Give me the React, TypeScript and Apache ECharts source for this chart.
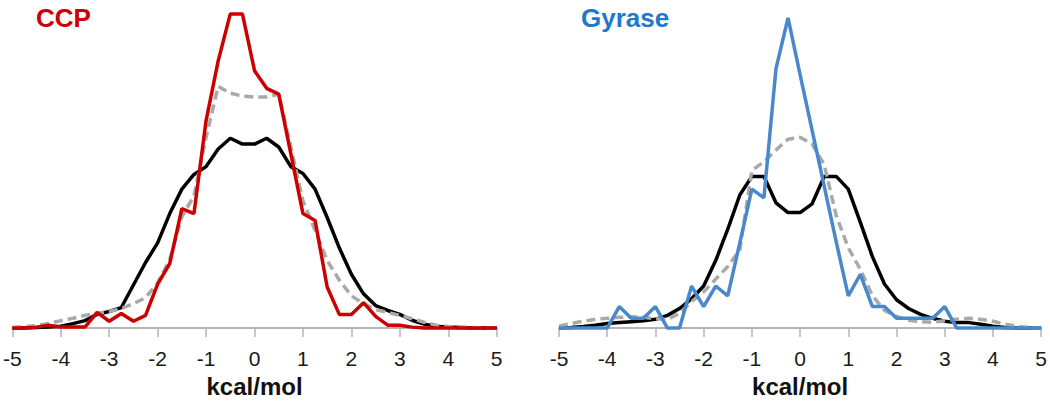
import React, { useEffect, useRef } from "react";
import * as echarts from "echarts";

const energies = [
  -5, -4.75, -4.5, -4.25, -4, -3.75, -3.5, -3.25, -3, -2.75, -2.5, -2.25, -2, -1.75, -1.5, -1.25, -1, -0.75, -0.5, -0.25,
  0, 0.25, 0.5, 0.75, 1, 1.25, 1.5, 1.75, 2, 2.25, 2.5, 2.75, 3, 3.25, 3.5, 3.75, 4, 4.25, 4.5, 4.75, 5,
];
const tickLabels = ["-5", "-4", "-3", "-2", "-1", "0", "1", "2", "3", "4", "5"];

const ccpBlack = [
  0, 0.01, 0.03, 0.06, 0.1, 0.23, 0.38, 0.7, 0.85, 1.05, 2.2, 3.35, 4.35, 5.85, 7.1, 7.85, 8.25, 9.15, 9.7, 9.4,
  9.4, 9.7, 9.25, 8.25, 7.9, 7.1, 5.65, 4.1, 2.75, 1.75, 1.15, 0.9, 0.7, 0.4, 0.2, 0.1, 0.05, 0.03, 0.01, 0, 0,
];
const ccpGray = [
  0.03, 0.08, 0.13, 0.23, 0.38, 0.5, 0.65, 0.75, 0.85, 1.0, 1.25, 1.55, 2.3, 3.5, 5.7, 6.75, 9.75, 12.35, 12.0, 11.85,
  11.8, 11.8, 11.95, 9.25, 6.5, 5.0, 3.45, 2.45, 1.65, 1.25, 0.95, 0.8, 0.65, 0.48, 0.3, 0.15, 0.08, 0.05, 0.03, 0, 0,
];
const ccpRed = [
  0, 0, 0.05, 0.15, 0.05, 0.05, 0.05, 0.8, 0.35, 0.75, 0.35, 0.65, 2.25, 3.3, 6.1, 5.85, 10.6, 13.65, 16.05, 16.05,
  13.15, 12.25, 11.95, 8.9, 5.85, 5.5, 2.1, 0.7, 0.7, 1.3, 0.6, 0.15, 0.15, 0.05, 0, 0, 0, 0, 0, 0, 0,
];

const gyrBlack = [
  0, 0.03, 0.08, 0.15, 0.23, 0.28, 0.33, 0.38, 0.45, 0.65, 1.0, 1.5, 2.15, 3.45, 5.05, 6.8, 7.75, 7.75, 6.4, 5.9,
  5.9, 6.35, 7.75, 7.75, 7.1, 5.4, 3.65, 2.25, 1.45, 1.0, 0.7, 0.5, 0.35, 0.28, 0.28, 0.2, 0.1, 0.03, 0, 0, 0,
];
const gyrGray = [
  0.1, 0.23, 0.35, 0.45, 0.5, 0.55, 0.58, 0.55, 0.48, 0.45, 0.75, 1.35, 1.85, 2.5, 3.15, 4.0, 8.05, 8.5, 9.1, 9.65,
  9.75, 9.4, 8.35, 5.75, 4.1, 3.0, 1.65, 0.9, 0.6, 0.4, 0.33, 0.3, 0.38, 0.45, 0.5, 0.45, 0.35, 0.2, 0.1, 0.03, 0,
];
const gyrBlue = [
  0, 0, 0, 0, 0, 1.1, 0.5, 0.5, 1.1, 0, 0, 2.15, 1.1, 2.15, 1.65, 4.35, 7.1, 6.65, 13.25, 15.85,
  12.95, 10.1, 7.25, 4.4, 1.65, 2.75, 1.1, 1.1, 0.5, 0.5, 0.5, 0.5, 1.1, 0, 0, 0, 0, 0, 0, 0, 0,
];

const panelTitles = ["CCP", "Gyrase"];
const axisTitle = "kcal/mol";

const FONT = "'Liberation Sans', Arial, sans-serif";
const RED = "#cc0000";
const BLUE = "#4a88cc";
const BLUE_TITLE = "#1f78cc";
const GRAY = "#a9a9a9";

const pairs = (ys: number[]) => energies.map((x, i) => [x, ys[i]]);

export default function App() {
  const ref = useRef<HTMLDivElement>(null);
  useEffect(() => {
    if (!ref.current) return;
    const chart = echarts.init(ref.current, null, { renderer: "svg" });
    const xAxisBase = (gridIndex: number) => ({
      type: "value" as const,
      gridIndex,
      min: -5,
      max: 5,
      interval: 1,
      name: axisTitle,
      nameLocation: "middle" as const,
      nameGap: 45,
      nameTextStyle: { fontFamily: FONT, fontSize: 24, fontWeight: "bold" as const, color: "#111" },
      axisLine: { show: true, onZero: false, lineStyle: { color: "#b5b5b5", width: 2 } },
      axisTick: { show: true, length: 9, lineStyle: { color: "#b5b5b5", width: 1.5 } },
      axisLabel: {
        fontFamily: FONT,
        fontSize: 21,
        color: "#1a1a1a",
        margin: 20,
        formatter: (v: number) => tickLabels[Math.round(v) + 5],
      },
      splitLine: { show: false },
    });
    const yAxisBase = (gridIndex: number) => ({
      type: "value" as const,
      gridIndex,
      min: 0,
      max: 16.25,
      show: false,
      splitLine: { show: false },
    });
    const lineSeries = (idx: number, ys: number[], color: string, dashed = false) => ({
      type: "line" as const,
      xAxisIndex: idx,
      yAxisIndex: idx,
      data: pairs(ys),
      showSymbol: false,
      symbol: "none",
      clip: false,
      lineStyle: { color, width: 3.5, type: dashed ? ([9, 5] as any) : "solid" },
      itemStyle: { color },
    });
    chart.setOption({
      animation: false,
      backgroundColor: "#ffffff",
      title: [
        {
          text: panelTitles[0],
          left: 31,
          top: 0,
          textStyle: { fontFamily: FONT, fontSize: 26, fontWeight: "bold", color: RED },
        },
        {
          text: panelTitles[1],
          left: 576,
          top: 0,
          textStyle: { fontFamily: FONT, fontSize: 26, fontWeight: "bold", color: BLUE_TITLE },
        },
      ],
      grid: [
        { left: 12.3, right: 553.3, top: 10, bottom: 68, containLabel: false },
        { left: 559, right: 8.3, top: 10, bottom: 68, containLabel: false },
      ],
      xAxis: [xAxisBase(0), xAxisBase(1)],
      yAxis: [yAxisBase(0), yAxisBase(1)],
      series: [
        lineSeries(0, ccpBlack, "#000000"),
        lineSeries(0, ccpGray, GRAY, true),
        lineSeries(0, ccpRed, RED),
        lineSeries(1, gyrBlack, "#000000"),
        lineSeries(1, gyrGray, GRAY, true),
        lineSeries(1, gyrBlue, BLUE),
      ],
    });
    return () => chart.dispose();
  }, []);
  return (
    <div
      ref={ref}
      style={{ position: "fixed", left: 0, top: 0, width: 1050, height: 403, background: "#fff" }}
    />
  );
}
